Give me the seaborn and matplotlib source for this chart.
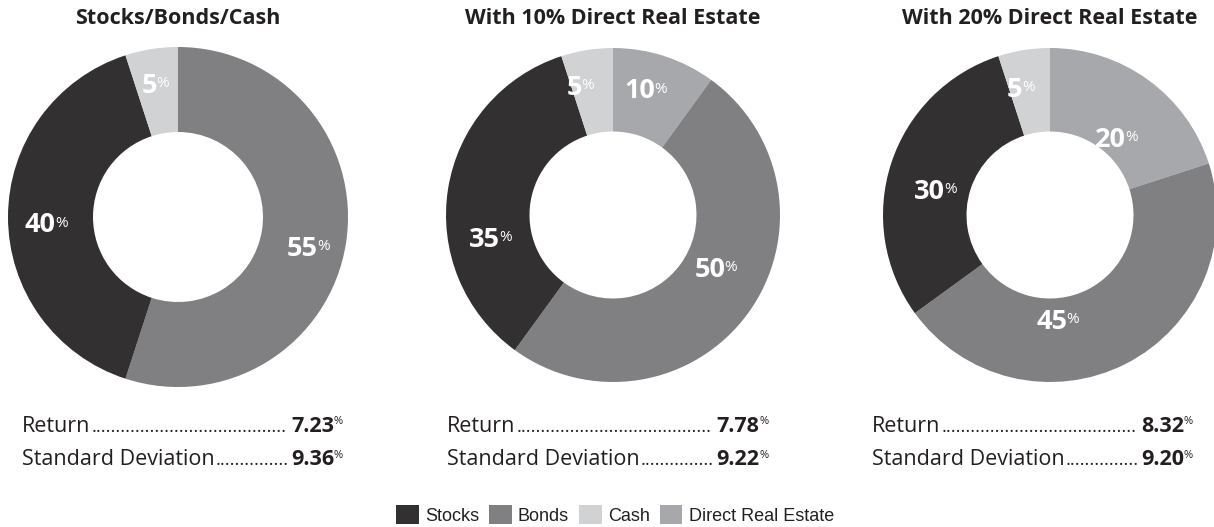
import matplotlib
matplotlib.use("Agg")
import matplotlib.pyplot as plt
import seaborn as sns
from matplotlib.patches import Patch

# ---------------- data ----------------
categories = ["Stocks", "Bonds", "Cash", "Direct Real Estate"]
titles = ["Stocks/Bonds/Cash", "With 10% Direct Real Estate", "With 20% Direct Real Estate"]
stocks = [40, 35, 30]
bonds = [55, 50, 45]
cash = [5, 5, 5]
real_estate = [0, 10, 20]
returns = ["7.23", "7.78", "8.32"]
std_devs = ["9.36", "9.22", "9.20"]
stat_names = ["Return", "Standard Deviation"]

# ---------------- style ----------------
sns.set_theme(style="white")
plt.rcParams["font.family"] = ["Open Sans", "DejaVu Sans"]
palette = {"Stocks": "#323031", "Bonds": "#808083", "Cash": "#d1d2d4",
           "Direct Real Estate": "#a7a8ab"}
INK = "#231f20"

W, H = 1214, 527
fig = plt.figure(figsize=(W / 100, H / 100), dpi=100)
fig.patch.set_facecolor("white")

# layout (pixels): pie centres / radii, label anchor positions in unit radius
centers = [(178, 217), (613, 215), (1050, 215)]
radii = [170, 167, 167]
label_pos = [
    {"Cash": (-0.12, 0.77), "Stocks": (-0.76, -0.05), "Bonds": (0.78, -0.19)},
    {"Cash": (-0.18, 0.76), "Direct Real Estate": (0.21, 0.74),
     "Stocks": (-0.72, -0.15), "Bonds": (0.63, -0.33)},
    {"Cash": (-0.16, 0.75), "Direct Real Estate": (0.41, 0.45),
     "Stocks": (-0.67, 0.14), "Bonds": (0.06, -0.64)},
]
stat_left = [22, 447, 872]
stat_right = [334, 759, 1184]
stat_base = [432, 465]

order = ["Direct Real Estate", "Bonds", "Stocks", "Cash"]

for i in range(3):
    vals = {"Stocks": stocks[i], "Bonds": bonds[i], "Cash": cash[i],
            "Direct Real Estate": real_estate[i]}
    cx, cy = centers[i]
    R = radii[i]
    ax = fig.add_axes([(cx - R) / W, 1 - (cy + R) / H, 2 * R / W, 2 * R / H])
    names = [n for n in order if vals[n] > 0]
    ax.pie([vals[n] for n in names], colors=[palette[n] for n in names],
           startangle=90, counterclock=False, radius=1,
           wedgeprops=dict(width=0.5, linewidth=0))
    ax.set_xlim(-1, 1)
    ax.set_ylim(-1, 1)
    ax.axis("off")
    for n in names:
        x, y = label_pos[i][n]
        t = ax.text(x - 0.05, y, str(vals[n]), ha="center", va="center",
                    fontsize=19.5, fontweight="bold", color="white")
        ax.annotate("%", xy=(1, 0.88), xycoords=t, xytext=(-0.5, 0),
                    textcoords="offset points", ha="left", va="top",
                    fontsize=11, color="white")
    fig.text(cx / W, 1 - 19 / H, titles[i], ha="center", va="center",
             fontsize=15.5, fontweight="bold", color=INK)

# stats lines with dotted leaders
renderer = fig.canvas.get_renderer()
for i in range(3):
    for j, (name, val) in enumerate(zip(stat_names, [returns[i], std_devs[i]])):
        yb = 1 - stat_base[j] / H
        lab = fig.text(stat_left[i] / W, yb, name, ha="left", va="baseline",
                       fontsize=15.5, color=INK)
        v = fig.text(stat_right[i] / W, yb, val, ha="right", va="baseline",
                     fontsize=15.5, fontweight="bold", color=INK)
        fig.text(stat_right[i] / W, yb + 7.5 / H, "%", ha="left",
                 va="baseline", fontsize=8, color=INK)
        lb = lab.get_window_extent(renderer)
        vb = v.get_window_extent(renderer)
        probe = fig.text(0, 0, "." * 20, fontsize=13)
        dw = probe.get_window_extent(renderer).width / 20
        probe.remove()
        gap = 1
        n = int((vb.x0 - lb.x1 - 2 * gap) / dw)
        fig.text((lb.x1 + gap) / W, yb, "." * max(n, 0), ha="left",
                 va="baseline", fontsize=13, color=INK)

# legend
handles = [Patch(facecolor=palette[c], edgecolor="none", label=c) for c in categories]
fig.legend(handles=handles, loc="center", bbox_to_anchor=(615 / W, 1 - 515 / H),
           ncol=4, frameon=False, handlelength=1.25, handleheight=1.25,
           handletextpad=0.35, columnspacing=0.55, borderaxespad=0,
           prop={"family": "Liberation Sans", "size": 13}, labelcolor=INK)

fig.savefig("out.png", dpi=100, facecolor="white")
